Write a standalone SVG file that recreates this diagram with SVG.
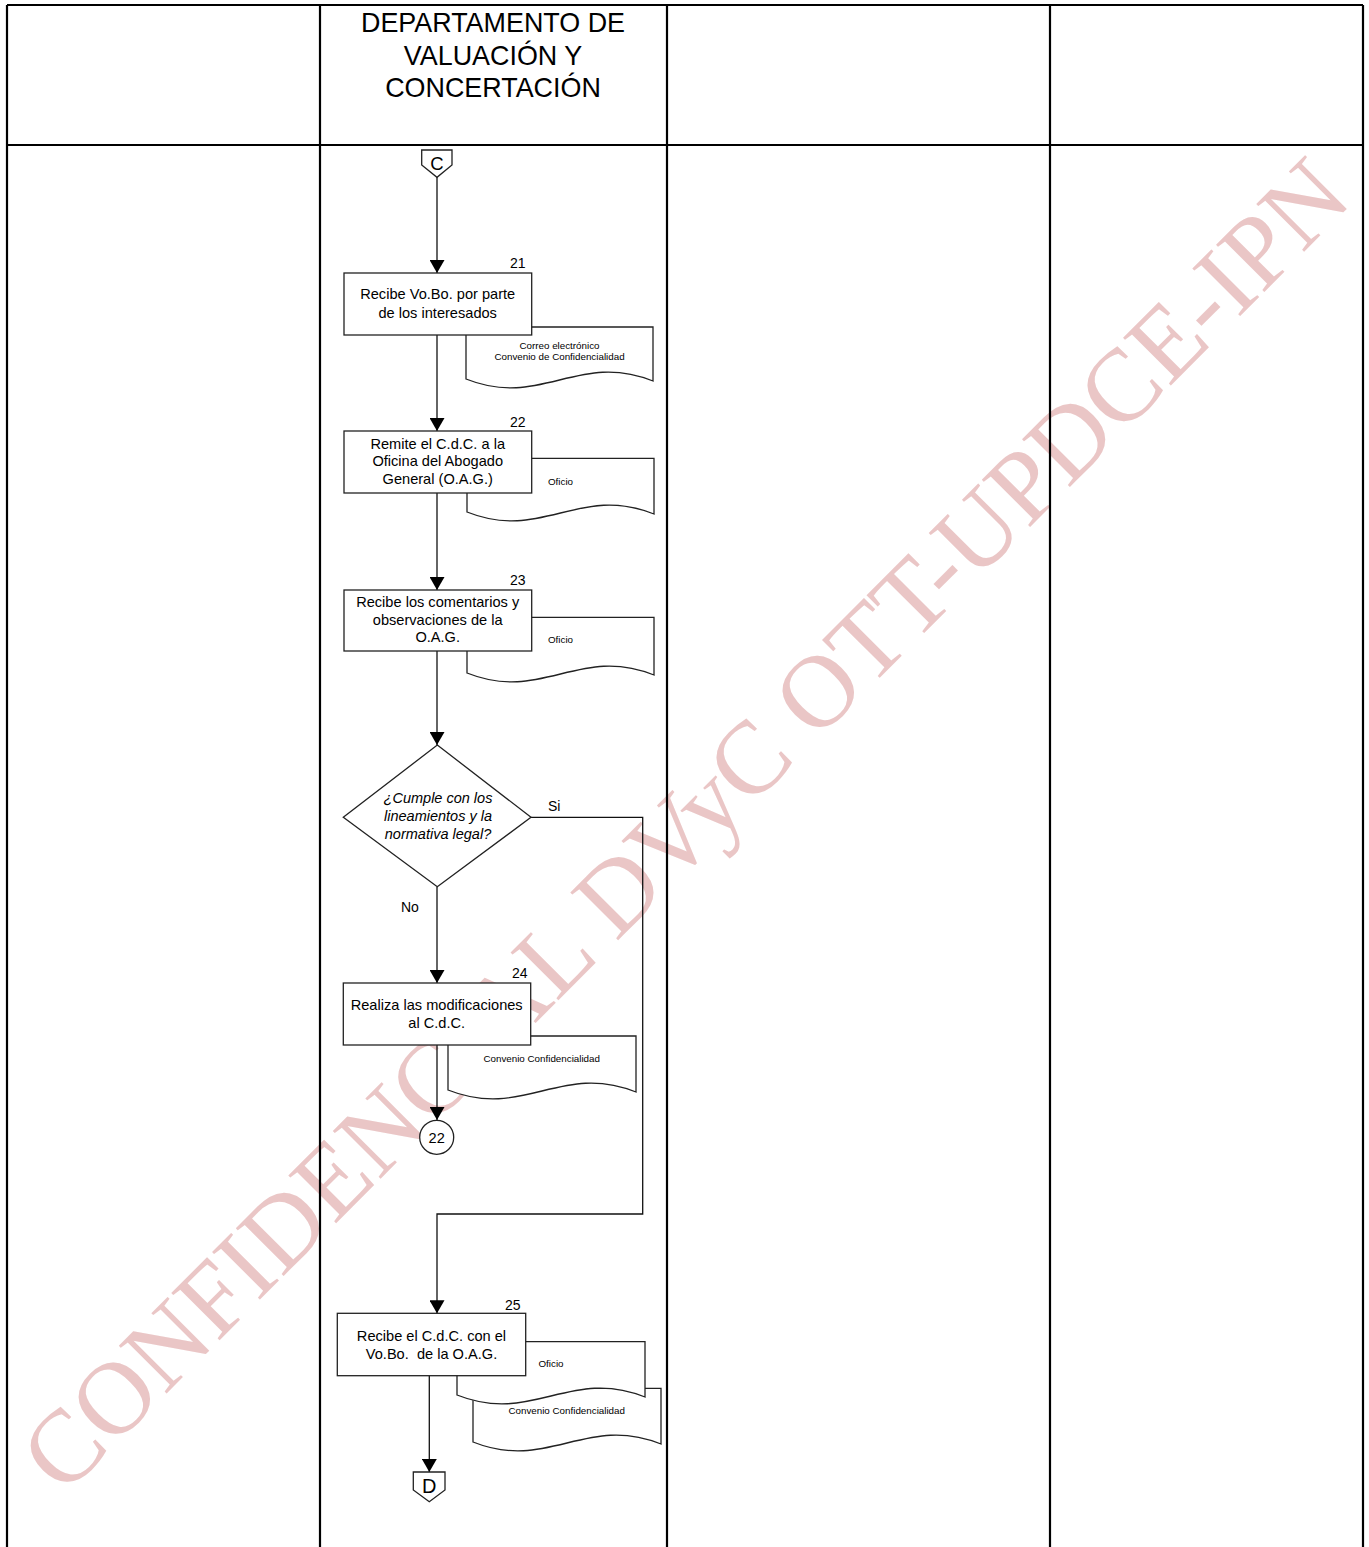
<svg xmlns="http://www.w3.org/2000/svg" width="1369" height="1547" viewBox="0 0 1369 1547">
<style>
.lane{stroke:#000;stroke-width:2.2;fill:none}
.box{fill:#fff;stroke:#222;stroke-width:1.3}
.doc{fill:#fff;stroke:#222;stroke-width:1.3}
.ln{fill:none;stroke:#111;stroke-width:1.3}
.t{font-family:"Liberation Sans",Arial,sans-serif;font-size:14.6px;fill:#000;text-anchor:middle}
.ti{font-family:"Liberation Sans",Arial,sans-serif;font-size:14.5px;font-style:italic;fill:#000;text-anchor:middle}
.n{font-family:"Liberation Sans",Arial,sans-serif;font-size:14px;fill:#000}
.s{font-family:"Liberation Sans",Arial,sans-serif;font-size:9.8px;fill:#000;text-anchor:middle}
.h{font-family:"Liberation Sans",Arial,sans-serif;font-size:26.9px;fill:#000;text-anchor:middle}
.wm{font-family:"Liberation Serif","Times New Roman",serif;font-size:103px;fill:#eac6c6;text-anchor:middle}
</style>
<defs>
<marker id="arr" viewBox="0 0 13 15" refX="13" refY="7.5" markerWidth="13" markerHeight="15" markerUnits="userSpaceOnUse" orient="auto">
<path d="M0,0 L13,7.5 L0,15 z" fill="#000"/>
</marker>
</defs>
<rect width="1369" height="1547" fill="#fff"/>
<g id="watermark">
<text class="wm" transform="translate(709,849) rotate(-45.1)" x="0" y="0">CONFIDENCIAL DVyC OTT-UPDCE-IPN</text>
</g>
<g id="lanes">
<line class="lane" x1="7" y1="5" x2="1363" y2="5"/>
<line class="lane" x1="7" y1="145" x2="1363" y2="145"/>
<line class="lane" x1="7" y1="5" x2="7" y2="1547"/>
<line class="lane" x1="320" y1="5" x2="320" y2="1547"/>
<line class="lane" x1="667" y1="5" x2="667" y2="1547"/>
<line class="lane" x1="1050" y1="5" x2="1050" y2="1547"/>
<line class="lane" x1="1363" y1="5" x2="1363" y2="1547"/>
<text class="h" x="493" y="32">DEPARTAMENTO DE</text>
<text class="h" x="493" y="64.5">VALUACIÓN Y</text>
<text class="h" x="493" y="97">CONCERTACIÓN</text>
</g>
<g id="connectors">
<line class="ln" x1="437" y1="177" x2="437" y2="273" marker-end="url(#arr)"/>
<line class="ln" x1="437" y1="335" x2="437" y2="431" marker-end="url(#arr)"/>
<line class="ln" x1="437" y1="493" x2="437" y2="590" marker-end="url(#arr)"/>
<line class="ln" x1="437" y1="651" x2="437" y2="745" marker-end="url(#arr)"/>
<line class="ln" x1="437" y1="887" x2="437" y2="983" marker-end="url(#arr)"/>
<line class="ln" x1="437" y1="1045" x2="437" y2="1120" marker-end="url(#arr)"/>
<polyline class="ln" points="531,817.3 642.7,817.3 642.7,1214 437,1214 437,1313.3" marker-end="url(#arr)"/>
<line class="ln" x1="429.3" y1="1376" x2="429.3" y2="1472" marker-end="url(#arr)"/>
<text class="n" x="548" y="811">Si</text>
<text class="n" x="401" y="912">No</text>
</g>
<g id="conn-C">
<polygon class="box" points="421.7,150 452,150 452,165 437,177.3 421.7,165"/>
<text class="t" x="437" y="169.5" style="font-size:18.5px">C</text>
</g>
<g id="step21">
<path class="doc" d="M466,327 H653 V381 C578,351 541,409 466,379 Z"/>
<rect class="box" x="344" y="273" width="187.7" height="62"/>
<text class="n" x="510" y="268">21</text>
<text class="t" x="437.7" y="299.3">Recibe Vo.Bo. por parte</text>
<text class="t" x="437.7" y="318">de los interesados</text>
<text class="s" x="559.5" y="348.5">Correo electrónico</text>
<text class="s" x="559.5" y="359.5">Convenio de Confidencialidad</text>
</g>
<g id="step22">
<path class="doc" d="M467,458.3 H654 V514 C579,484 542,542 467,512 Z"/>
<rect class="box" x="344" y="431" width="187.7" height="62"/>
<text class="n" x="510" y="426.7">22</text>
<text class="t" x="437.7" y="448.5">Remite el C.d.C. a la</text>
<text class="t" x="437.7" y="466.3">Oficina del Abogado</text>
<text class="t" x="437.7" y="484.3">General (O.A.G.)</text>
<text class="s" x="560.5" y="485">Oficio</text>
</g>
<g id="step23">
<path class="doc" d="M467,617.3 H654 V675 C579,645 542,703 467,673 Z"/>
<rect class="box" x="344" y="590" width="187.7" height="61"/>
<text class="n" x="510" y="585">23</text>
<text class="t" x="437.7" y="607">Recibe los comentarios y</text>
<text class="t" x="437.7" y="624.5">observaciones de la</text>
<text class="t" x="437.7" y="642">O.A.G.</text>
<text class="s" x="560.5" y="643.3">Oficio</text>
</g>
<g id="decision">
<polygon class="box" points="437.3,745 531,817.3 437.3,886.7 343.3,817.3"/>
<text class="ti" x="438" y="802.7">¿Cumple con los</text>
<text class="ti" x="438" y="820.7">lineamientos y la</text>
<text class="ti" x="438" y="839.3">normativa legal?</text>
</g>
<g id="step24">
<path class="doc" d="M448,1036 H636 V1092 C560.8,1062 523.2,1120 448,1090 Z"/>
<rect class="box" x="343.3" y="983" width="187.4" height="62"/>
<text class="n" x="512" y="978">24</text>
<text class="t" x="436.7" y="1010">Realiza las modificaciones</text>
<text class="t" x="436.7" y="1028.3">al C.d.C.</text>
<text class="s" x="541.7" y="1061.7">Convenio Confidencialidad</text>
</g>
<g id="conn-22">
<circle class="box" cx="436.7" cy="1137.3" r="17"/>
<text class="t" x="436.7" y="1142.5">22</text>
</g>
<g id="step25">
<path class="doc" d="M473,1388.3 H661 V1444 C585.8,1414 548.2,1472 473,1442 Z"/>
<path class="doc" d="M457,1341.7 H645 V1397 C569.8,1367 532.2,1425 457,1395 Z"/>
<rect class="box" x="337.3" y="1313.3" width="188.4" height="62.4"/>
<text class="n" x="505" y="1310">25</text>
<text class="t" x="431.5" y="1340.5">Recibe el C.d.C. con el</text>
<text class="t" x="431.5" y="1358.5" xml:space="preserve">Vo.Bo.  de la O.A.G.</text>
<text class="s" x="551" y="1367.3">Oficio</text>
<text class="s" x="566.7" y="1414">Convenio Confidencialidad</text>
</g>
<g id="conn-D">
<polygon class="box" points="413.3,1472 445,1472 445,1490 429.3,1501.7 413.3,1490"/>
<text class="t" x="429.3" y="1492.5" style="font-size:20px">D</text>
</g>
</svg>
